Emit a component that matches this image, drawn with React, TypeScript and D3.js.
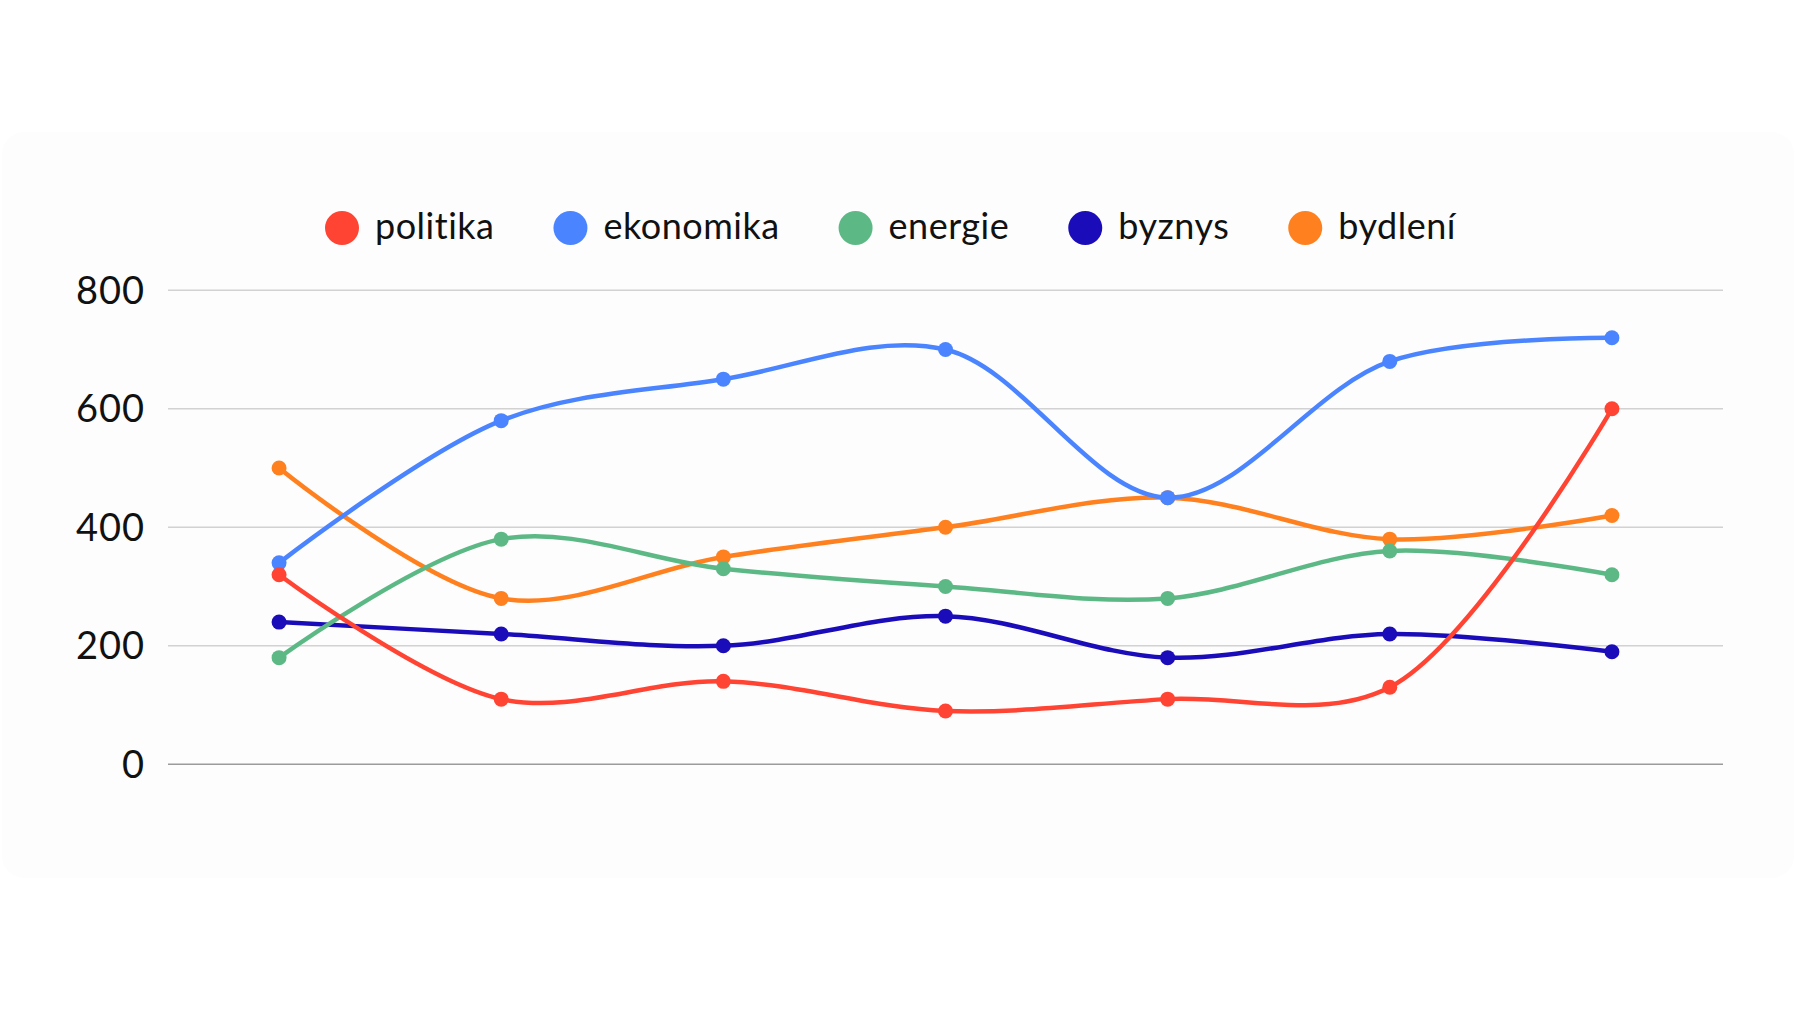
import { useEffect, useRef } from "react";
import * as d3 from "d3";

const W = 1800;
const H = 1012;

// seven periods, the x axis carries no labels
const periods = ["p1", "p2", "p3", "p4", "p5", "p6", "p7"];
const yTicks = [0, 200, 400, 600, 800];

const seriesNames = ["politika", "ekonomika", "energie", "byznys", "bydlení"];
const seriesColors = ["#ff4433", "#4a84ff", "#5cb985", "#1a0cb8", "#ff801f"];

const politika = [320, 110, 140, 90, 110, 130, 600];
const ekonomika = [340, 580, 650, 700, 450, 680, 720];
const energie = [180, 380, 330, 300, 280, 360, 320];
const byznys = [240, 220, 200, 250, 180, 220, 190];
const bydleni = [500, 280, 350, 400, 450, 380, 420];

const seriesValues = [politika, ekonomika, energie, byznys, bydleni];

const FONT = "Lato, 'Open Sans', sans-serif";

export default function App() {
  const svgRef = useRef<SVGSVGElement>(null);

  useEffect(() => {
    document.body.style.margin = "0";
    if (!svgRef.current) return;
    const el = svgRef.current;
    d3.select(el).selectAll("*").remove();
    const svg = d3.select(el);

    const left = 168;
    const right = 1723;
    const x = d3.scalePoint<string>().domain(periods).range([left, right]).padding(0.5);
    const y = d3.scaleLinear().domain([0, 800]).range([764.3, 290.3]);

    // faint card behind the chart
    svg.append("rect")
      .attr("x", 2).attr("y", 132)
      .attr("width", 1792).attr("height", 746)
      .attr("rx", 22)
      .attr("fill", "#fdfdfd");

    // grid
    svg.append("g")
      .selectAll("line")
      .data(yTicks)
      .join("line")
      .attr("x1", left).attr("x2", right)
      .attr("y1", (d) => y(d)).attr("y2", (d) => y(d))
      .attr("stroke", (d) => (d === 0 ? "#9b9b9b" : "#d2d2d2"))
      .attr("stroke-width", 1.5);

    svg.append("g")
      .selectAll("text")
      .data(yTicks)
      .join("text")
      .attr("x", 145)
      .attr("y", (d) => y(d))
      .attr("dy", "0.36em")
      .attr("text-anchor", "end")
      .attr("font-family", FONT)
      .attr("font-size", 38)
      .attr("letter-spacing", 1)
      .attr("fill", "#111")
      .text((d) => String(d));

    const line = d3.line<number>()
      .x((_d, i) => x(periods[i])!)
      .y((d) => y(d))
      .curve(d3.curveCatmullRom.alpha(0.5));

    // first series ends up on top
    const order = d3.range(seriesNames.length).reverse();
    const g = svg.append("g");
    order.forEach((s) => {
      g.append("path")
        .attr("d", line(seriesValues[s]))
        .attr("fill", "none")
        .attr("stroke", seriesColors[s])
        .attr("stroke-width", 4.5)
        .attr("stroke-linecap", "round");
      g.selectAll(null)
        .data(seriesValues[s])
        .join("circle")
        .attr("cx", (_d, i) => x(periods[i])!)
        .attr("cy", (d) => y(d))
        .attr("r", 7.5)
        .attr("fill", seriesColors[s]);
    });

    // legend
    const leg = svg.append("g");
    let cx = 342;
    const ly = 228;
    seriesNames.forEach((name, s) => {
      leg.append("circle")
        .attr("cx", cx).attr("cy", ly).attr("r", 17)
        .attr("fill", seriesColors[s]);
      const t = leg.append("text")
        .attr("x", cx + 33)
        .attr("y", ly)
        .attr("dy", "0.3em")
        .attr("font-family", FONT)
        .attr("font-size", 36)
        .attr("letter-spacing", 0.5)
        .style("font-variant-ligatures", "none")
        .attr("fill", "#111")
        .text(name);
      const tw = (t.node() as SVGTextElement).getComputedTextLength();
      cx = cx + 33 + tw + 76;
    });
  }, []);

  return <svg ref={svgRef} width={W} height={H} style={{ display: "block", background: "#fff" }} />;
}
